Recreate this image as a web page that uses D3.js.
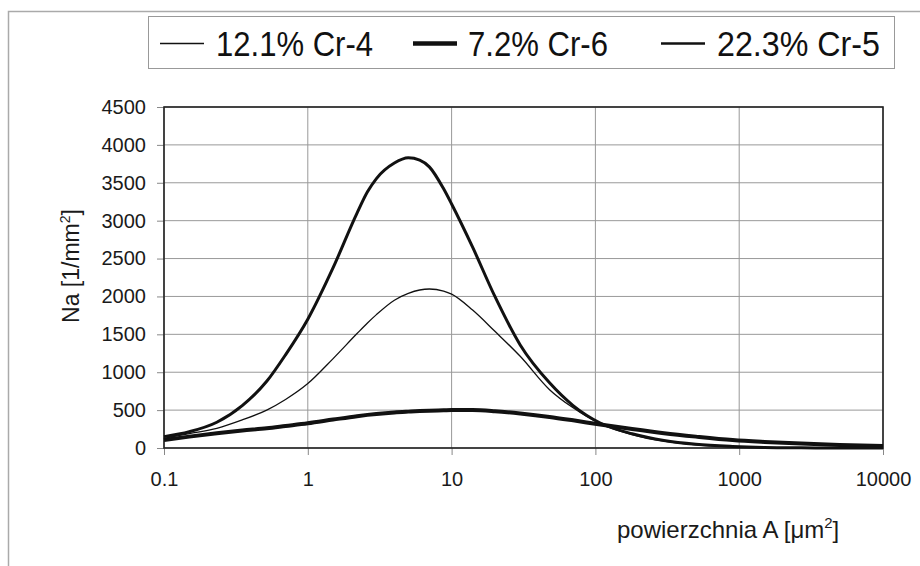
<!DOCTYPE html>
<html>
<head>
<meta charset="utf-8">
<script src="https://cdn.jsdelivr.net/npm/d3@7"></script>
<style>
  html, body { margin: 0; padding: 0; background: #fff; }
  svg { display: block; font-family: "Liberation Sans", Arial, sans-serif; }
</style>
</head>
<body>
<svg id="chart" width="920" height="566"></svg>
<script>
// ---- data ----
const areaX = [0.1, 0.15, 0.233, 0.35, 0.518, 0.7, 1, 1.5, 2.2, 2.6, 3, 4, 5, 6, 7, 8.8, 10, 14, 20, 30, 48, 70, 108, 180, 300, 500, 900, 1500, 2700, 5000, 10000];
const cr4 = [128, 190, 260, 370, 500, 640, 850, 1180, 1510, 1650, 1760, 1950, 2040, 2085, 2098, 2070, 2030, 1820, 1540, 1210, 770, 530, 320, 175, 90, 42, 17, 5, 0, 0, 0];
const cr6 = [150, 215, 340, 560, 880, 1230, 1700, 2380, 3100, 3380, 3555, 3760, 3830, 3800, 3710, 3420, 3220, 2650, 2000, 1360, 860, 560, 330, 188, 98, 48, 20, 7, 2, 0, 0];
const cr5 = [106, 150, 194, 230, 260, 290, 326, 375, 420, 437, 450, 470, 480, 487, 492, 497, 500, 500, 485, 455, 410, 365, 310, 250, 195, 150, 105, 80, 58, 40, 28];
const seriesNames = ["12.1% Cr-4", "7.2% Cr-6", "22.3% Cr-5"];
const xTicks = [0.1, 1, 10, 100, 1000, 10000];
const xTickLabels = ["0.1", "1", "10", "100", "1000", "10000"];
const yTicks = [0, 500, 1000, 1500, 2000, 2500, 3000, 3500, 4000, 4500];

// ---- layout ----
const svg = d3.select("#chart");
const L = 164, R = 883, T = 107, B = 448;
const x = d3.scaleLog().domain([0.1, 10000]).range([L, R]);
const y = d3.scaleLinear().domain([0, 4500]).range([B, T]);

// outer frame
svg.append("rect").attr("x", 8.5).attr("y", 11.5).attr("width", 1000).attr("height", 1000)
  .attr("fill", "none").attr("stroke", "#aaa").attr("stroke-width", 1.5);

// gridlines
svg.append("g").selectAll("line").data(yTicks).join("line")
  .attr("x1", L).attr("x2", R).attr("y1", d => y(d)).attr("y2", d => y(d))
  .attr("stroke", "#999").attr("stroke-width", 1);
svg.append("g").selectAll("line").data(xTicks).join("line")
  .attr("y1", T).attr("y2", B).attr("x1", d => x(d)).attr("x2", d => x(d))
  .attr("stroke", "#999").attr("stroke-width", 1);

// axes
const yAxis = svg.append("g").attr("transform", `translate(${L},0)`)
  .call(d3.axisLeft(y).tickValues(yTicks).tickSize(7).tickPadding(11).tickFormat(d3.format("d")));
const xAxis = svg.append("g").attr("transform", `translate(0,${B})`)
  .call(d3.axisBottom(x).tickValues(xTicks).tickSize(7).tickPadding(17).tickFormat((d, i) => xTickLabels[i]));
[yAxis, xAxis].forEach(g => {
  g.select(".domain").remove();
  g.selectAll(".tick line").attr("stroke", "#888");
  g.selectAll(".tick text").attr("font-size", 20).attr("fill", "#1a1a1a")
    .attr("font-family", "Liberation Sans, Arial, sans-serif");
});

// plot border
svg.append("rect").attr("x", L).attr("y", T).attr("width", R - L).attr("height", B - T)
  .attr("fill", "none").attr("stroke", "#222").attr("stroke-width", 1.6);

// lines
const widths = [1.3, 3, 4];
const data = [cr4, cr6, cr5];
const line = d3.line().x(d => x(d[0])).y(d => y(d[1])).curve(d3.curveMonotoneX);
[2, 0, 1].forEach(k => {
  svg.append("path").datum(areaX.map((v, i) => [v, data[k][i]]))
    .attr("d", line).attr("fill", "none").attr("stroke", "#111")
    .attr("stroke-width", widths[k]).attr("stroke-linejoin", "round");
});

// axis titles
const yt = svg.append("text").attr("transform", "translate(79,266) rotate(-90)")
  .attr("text-anchor", "middle").attr("font-size", 23).attr("fill", "#1a1a1a");
yt.append("tspan").text("Na [1/mm");
yt.append("tspan").attr("font-size", 14).attr("dy", -9).text("2");
yt.append("tspan").attr("dy", 9).text("]");

const xt = svg.append("text").attr("x", 617).attr("y", 538)
  .attr("font-size", 24).attr("fill", "#1a1a1a");
xt.append("tspan").text("powierzchnia A [μm");
xt.append("tspan").attr("font-size", 15).attr("dy", -10).text("2");
xt.append("tspan").attr("dy", 10).text("]");

// legend
svg.append("rect").attr("x", 148.5).attr("y", 16.5).attr("width", 746).attr("height", 52)
  .attr("fill", "#fff").attr("stroke", "#999").attr("stroke-width", 1);
const legItems = [
  { x1: 160, x2: 204, tx: 216, tw: 157, w: 1.6 },
  { x1: 413, x2: 457, tx: 468, tw: 140, w: 4.5 },
  { x1: 661, x2: 705, tx: 717, tw: 163, w: 2.6 }
];
legItems.forEach((it, i) => {
  svg.append("line").attr("x1", it.x1).attr("x2", it.x2).attr("y1", 43.5).attr("y2", 43.5)
    .attr("stroke", "#111").attr("stroke-width", it.w);
  svg.append("text").attr("x", it.tx).attr("y", 56).attr("font-size", 35)
    .attr("fill", "#111").attr("textLength", it.tw).attr("lengthAdjust", "spacingAndGlyphs")
    .text(seriesNames[i]);
});
</script>
</body>
</html>
